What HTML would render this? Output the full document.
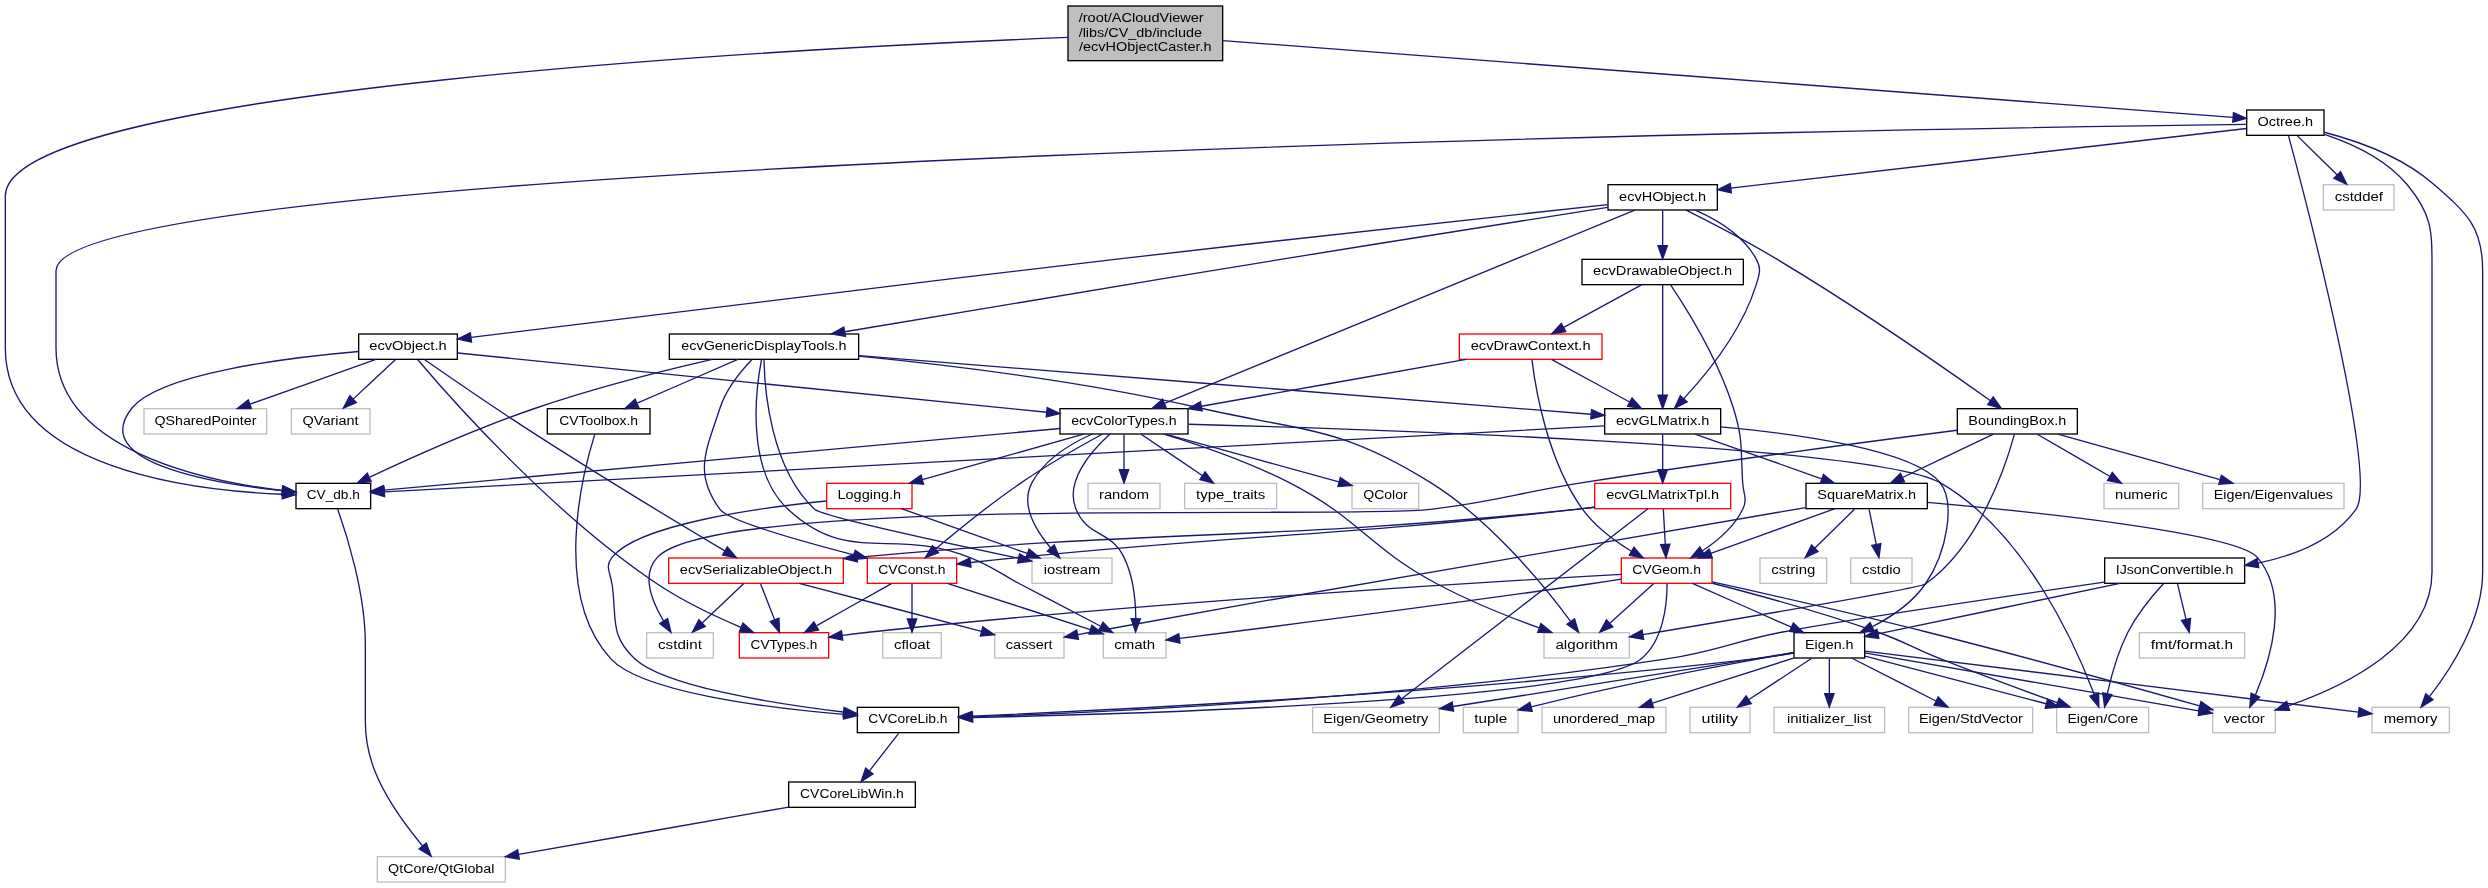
<!DOCTYPE html>
<html><head><meta charset="utf-8"><title>ecvHObjectCaster.h include dependency graph</title>
<style>
html,body{margin:0;padding:0;background:#ffffff;}
body{width:2488px;height:888px;overflow:hidden;}
svg{display:block;will-change:transform;}
.e path{fill:none;stroke:#191970;stroke-width:1;}
.e polygon{fill:#191970;stroke:#191970;stroke-width:1;}
.n text{font-family:"Liberation Sans",sans-serif;font-size:10.25px;fill:#000000;}
</style></head><body>
<svg width="2488" height="888" viewBox="0 0 1866 666"><rect x="0" y="0" width="1866" height="666" fill="#ffffff"/><g transform="translate(4 662)"><g class="n"><rect x="797" y="-657.5" width="116" height="41" fill="#bfbfbf" stroke="black"/><text x="805" y="-645.5" textLength="93.79" lengthAdjust="spacingAndGlyphs">/root/ACloudViewer</text><text x="805" y="-634.5" textLength="92.56" lengthAdjust="spacingAndGlyphs">/libs/CV_db/include</text><text x="854.94" y="-623.5" text-anchor="middle" textLength="99.45" lengthAdjust="spacingAndGlyphs">/ecvHObjectCaster.h</text></g><g class="n"><rect x="218" y="-299.5" width="56" height="19" fill="white" stroke="black"/><text x="245.93" y="-287.5" text-anchor="middle" textLength="39.82" lengthAdjust="spacingAndGlyphs">CV_db.h</text></g><g class="e"><path d="M796.9,-633.91C604.47,-626.23 0,-595.67 0,-515 0,-515 0,-515 0,-401 0,-311.11 138.57,-294.19 207.71,-291.34"/><polygon points="207.9,-294.83 217.78,-291 207.67,-287.84 207.9,-294.83"/></g><g class="n"><rect x="1681" y="-579.5" width="58" height="19" fill="white" stroke="black"/><text x="1709.96" y="-567.5" text-anchor="middle" textLength="41.78" lengthAdjust="spacingAndGlyphs">Octree.h</text></g><g class="e"><path d="M913.1,-631.58C1075.92,-619.2 1533.73,-584.4 1670.76,-573.98"/><polygon points="1671.11,-577.47 1680.81,-573.22 1670.57,-570.49 1671.11,-577.47"/></g><g class="n"><rect x="279" y="-19.5" width="96" height="19" fill="white" stroke="#bfbfbf"/><text x="326.92" y="-7.5" text-anchor="middle" textLength="79.71" lengthAdjust="spacingAndGlyphs">QtCore/QtGlobal</text></g><g class="e"><path d="M249.24,-280.3C255.79,-261.89 270,-217.51 270,-179 270,-179 270,-179 270,-121 270,-100.11 274.9,-73.06 312.97,-27.51"/><polygon points="310.31,-25.23 319.41,-19.8 315.68,-29.72 310.31,-25.23"/></g><g class="e"><path d="M1680.98,-568.66C1458.96,-565.89 38,-544.82 38,-459 38,-459 38,-459 38,-401 38,-325.08 147.62,-301.42 207.7,-294.15"/><polygon points="208.4,-297.6 217.95,-293.01 207.62,-290.64 208.4,-297.6"/></g><g class="n"><rect x="1574.5" y="-243.5" width="105" height="19" fill="white" stroke="black"/><text x="1626.92" y="-231.5" text-anchor="middle" textLength="88.3" lengthAdjust="spacingAndGlyphs">IJsonConvertible.h</text></g><g class="e"><path d="M1712.37,-560.23C1724.68,-514.39 1780.03,-303.57 1763,-280 1746.14,-256.66 1716.71,-245.23 1689.53,-239.7"/><polygon points="1690.11,-236.25 1679.65,-237.93 1688.87,-243.14 1690.11,-236.25"/></g><g class="n"><rect x="1655.5" y="-131.5" width="47" height="19" fill="white" stroke="#bfbfbf"/><text x="1679.22" y="-119.5" text-anchor="middle" textLength="30.86" lengthAdjust="spacingAndGlyphs">vector</text></g><g class="e"><path d="M1739.35,-561.3C1759.41,-554.59 1785.14,-542.9 1801,-524 1820.34,-500.94 1820,-489.1 1820,-459 1820,-459 1820,-459 1820,-233 1820,-178.53 1753.78,-147.06 1712.1,-132.64"/><polygon points="1713.19,-129.32 1702.6,-129.5 1711,-135.96 1713.19,-129.32"/></g><g class="n"><rect x="1775" y="-131.5" width="58" height="19" fill="white" stroke="#bfbfbf"/><text x="1803.94" y="-119.5" text-anchor="middle" textLength="40.33" lengthAdjust="spacingAndGlyphs">memory</text></g><g class="e"><path d="M1739.26,-562.81C1763.46,-556.47 1797.53,-544.55 1821,-524 1846.01,-502.1 1858,-492.24 1858,-459 1858,-459 1858,-459 1858,-233 1858,-196.86 1834.23,-160.25 1818.23,-139.71"/><polygon points="1820.75,-137.26 1811.74,-131.69 1815.31,-141.67 1820.75,-137.26"/></g><g class="n"><rect x="1738.5" y="-523.5" width="53" height="19" fill="white" stroke="#bfbfbf"/><text x="1765.12" y="-511.5" text-anchor="middle" textLength="36.18" lengthAdjust="spacingAndGlyphs">cstddef</text></g><g class="e"><path d="M1719.08,-560.08C1727.17,-552.14 1739.2,-540.34 1748.91,-530.8"/><polygon points="1751.4,-533.25 1756.09,-523.75 1746.5,-528.26 1751.4,-533.25"/></g><g class="n"><rect x="1202" y="-523.5" width="82" height="19" fill="white" stroke="black"/><text x="1242.98" y="-511.5" text-anchor="middle" textLength="65.3" lengthAdjust="spacingAndGlyphs">ecvHObject.h</text></g><g class="e"><path d="M1680.79,-565.62C1603.35,-556.67 1392.09,-532.24 1294.13,-520.91"/><polygon points="1294.51,-517.43 1284.17,-519.76 1293.7,-524.39 1294.51,-517.43"/></g><g class="n"><rect x="1538.5" y="-131.5" width="69" height="19" fill="white" stroke="#bfbfbf"/><text x="1573.02" y="-119.5" text-anchor="middle" textLength="52.95" lengthAdjust="spacingAndGlyphs">Eigen/Core</text></g><g class="e"><path d="M1618.67,-224.39C1610.78,-215.8 1599.12,-201.92 1592,-188 1584.47,-173.28 1579.48,-155.12 1576.51,-141.74"/><polygon points="1579.91,-140.9 1574.48,-131.8 1573.06,-142.3 1579.91,-140.9"/></g><g class="n"><rect x="639" y="-131.5" width="76" height="19" fill="white" stroke="black"/><text x="676.93" y="-119.5" text-anchor="middle" textLength="59.48" lengthAdjust="spacingAndGlyphs">CVCoreLib.h</text></g><g class="e"><path d="M1574.32,-225.43C1502.64,-215.05 1378.13,-196.69 1333,-188 1294.47,-180.58 1285.78,-174.01 1247,-168 1055.34,-138.32 824.22,-127.73 725.51,-124.38"/><polygon points="725.36,-120.88 715.25,-124.04 725.13,-127.87 725.36,-120.88"/></g><g class="n"><rect x="1600.5" y="-187.5" width="79" height="19" fill="white" stroke="#bfbfbf"/><text x="1639.99" y="-175.5" text-anchor="middle" textLength="61.71" lengthAdjust="spacingAndGlyphs">fmt/format.h</text></g><g class="e"><path d="M1629.15,-224.08C1630.87,-216.93 1633.35,-206.64 1635.5,-197.69"/><polygon points="1638.96,-198.29 1637.89,-187.75 1632.15,-196.65 1638.96,-198.29"/></g><g class="n"><rect x="1341.5" y="-187.5" width="53" height="19" fill="white" stroke="black"/><text x="1367.97" y="-175.5" text-anchor="middle" textLength="36.3" lengthAdjust="spacingAndGlyphs">Eigen.h</text></g><g class="e"><path d="M1585.96,-224.44C1535.99,-214.03 1452.37,-196.59 1404.54,-186.62"/><polygon points="1405.12,-183.16 1394.61,-184.55 1403.69,-190.02 1405.12,-183.16"/></g><g class="n"><rect x="587.5" y="-75.5" width="95" height="19" fill="white" stroke="black"/><text x="634.93" y="-63.5" text-anchor="middle" textLength="77.8" lengthAdjust="spacingAndGlyphs">CVCoreLibWin.h</text></g><g class="e"><path d="M670,-112C662.7,-102.62 655.4,-93.23 648.11,-83.85"/><polygon points="645.22,-85.84 641.84,-75.8 650.75,-81.54 645.22,-85.84"/></g><g class="e"><path d="M587.5,-56.67C520.02,-44.84 452.53,-33.01 385.05,-21.18"/><polygon points="384.25,-24.59 375,-19.42 385.45,-17.7 384.25,-24.59"/></g><g class="e"><path d="M1394.8,-169.94C1429.32,-160.85 1489.71,-144.94 1530.52,-134.19"/><polygon points="1531.66,-137.51 1540.44,-131.58 1529.88,-130.74 1531.66,-137.51"/></g><g class="e"><path d="M1341.49,-172.16C1332.48,-170.65 1322.32,-169.09 1313,-168 1094.35,-142.43 831.58,-129.43 725.21,-124.9"/><polygon points="725.25,-121.4 715.11,-124.48 724.95,-128.39 725.25,-121.4"/></g><g class="n"><rect x="980.5" y="-131.5" width="95" height="19" fill="white" stroke="#bfbfbf"/><text x="1027.9" y="-119.5" text-anchor="middle" textLength="78.81" lengthAdjust="spacingAndGlyphs">Eigen/Geometry</text></g><g class="e"><path d="M1341.43,-172.62C1332.41,-171.14 1322.27,-169.49 1313,-168 1307.41,-167.1 1167.61,-145.03 1085.93,-132.14"/><polygon points="1086.2,-128.64 1075.78,-130.54 1085.11,-135.56 1086.2,-128.64"/></g><g class="e"><path d="M1394.52,-172.4C1450.89,-162.61 1582.6,-139.74 1645.03,-128.9"/><polygon points="1645.88,-132.3 1655.14,-127.14 1644.69,-125.41 1645.88,-132.3"/></g><g class="n"><rect x="1326.5" y="-131.5" width="83" height="19" fill="white" stroke="#bfbfbf"/><text x="1368.01" y="-119.5" text-anchor="middle" textLength="63.52" lengthAdjust="spacingAndGlyphs">initializer_list</text></g><g class="e"><path d="M1368,-168.08C1368,-161.01 1368,-150.86 1368,-141.99"/><polygon points="1371.5,-141.75 1368,-131.75 1364.5,-141.75 1371.5,-141.75"/></g><g class="n"><rect x="1427.5" y="-131.5" width="93" height="19" fill="white" stroke="#bfbfbf"/><text x="1474.12" y="-119.5" text-anchor="middle" textLength="77.91" lengthAdjust="spacingAndGlyphs">Eigen/StdVector</text></g><g class="e"><path d="M1385.03,-168.32C1402.03,-159.66 1428.38,-146.24 1447.99,-136.25"/><polygon points="1449.69,-139.31 1457.01,-131.65 1446.51,-133.08 1449.69,-139.31"/></g><g class="e"><path d="M1394.62,-173.7C1468.7,-164.53 1677.58,-138.66 1764.88,-127.84"/><polygon points="1765.42,-131.31 1774.91,-126.6 1764.56,-124.36 1765.42,-131.31"/></g><g class="n"><rect x="1093.5" y="-131.5" width="41" height="19" fill="white" stroke="#bfbfbf"/><text x="1114.04" y="-119.5" text-anchor="middle" textLength="24.8" lengthAdjust="spacingAndGlyphs">tuple</text></g><g class="e"><path d="M1341.27,-172.46C1300.82,-165.42 1221.47,-150.9 1144.45,-131.91"/><polygon points="1145.14,-128.48 1134.59,-129.45 1143.44,-135.27 1145.14,-128.48"/></g><g class="n"><rect x="1152.5" y="-131.5" width="93" height="19" fill="white" stroke="#bfbfbf"/><text x="1199.02" y="-119.5" text-anchor="middle" textLength="76.67" lengthAdjust="spacingAndGlyphs">unordered_map</text></g><g class="e"><path d="M1341.22,-168.44C1312.67,-159.32 1267.27,-144.81 1235.46,-134.65"/><polygon points="1236.24,-131.23 1225.65,-131.52 1234.11,-137.89 1236.24,-131.23"/></g><g class="n"><rect x="1263.5" y="-131.5" width="45" height="19" fill="white" stroke="#bfbfbf"/><text x="1285.89" y="-119.5" text-anchor="middle" textLength="27.41" lengthAdjust="spacingAndGlyphs">utility</text></g><g class="e"><path d="M1354.83,-168.32C1342.15,-159.98 1322.77,-147.21 1307.79,-137.35"/><polygon points="1309.42,-134.23 1299.14,-131.65 1305.57,-140.08 1309.42,-134.23"/></g><g class="n"><rect x="791" y="-355.5" width="96" height="19" fill="white" stroke="black"/><text x="838.97" y="-343.5" text-anchor="middle" textLength="79.11" lengthAdjust="spacingAndGlyphs">ecvColorTypes.h</text></g><g class="e"><path d="M1222.13,-504.42C1155.5,-477.05 947.67,-391.65 869.31,-359.45"/><polygon points="870.57,-356.19 859.99,-355.62 867.91,-362.66 870.57,-356.19"/></g><g class="n"><rect x="1182.5" y="-467.5" width="121" height="19" fill="white" stroke="black"/><text x="1242.98" y="-455.5" text-anchor="middle" textLength="104.31" lengthAdjust="spacingAndGlyphs">ecvDrawableObject.h</text></g><g class="e"><path d="M1243,-504.08C1243,-497.01 1243,-486.86 1243,-477.99"/><polygon points="1246.5,-477.75 1243,-467.75 1239.5,-477.75 1246.5,-477.75"/></g><g class="n"><rect x="1199.5" y="-355.5" width="87" height="19" fill="white" stroke="black"/><text x="1242.98" y="-343.5" text-anchor="middle" textLength="69.89" lengthAdjust="spacingAndGlyphs">ecvGLMatrix.h</text></g><g class="e"><path d="M1267.47,-504.44C1283.57,-497.38 1303.38,-485.63 1313,-468 1317.26,-460.2 1315.65,-456.48 1313,-448 1302.41,-414.12 1276.02,-381.62 1258.84,-363.01"/><polygon points="1261.32,-360.54 1251.89,-355.71 1256.24,-365.37 1261.32,-360.54"/></g><g class="n"><rect x="498" y="-411.5" width="142" height="19" fill="white" stroke="black"/><text x="568.98" y="-399.5" text-anchor="middle" textLength="123.97" lengthAdjust="spacingAndGlyphs">ecvGenericDisplayTools.h</text></g><g class="e"><path d="M1201.74,-506.53C1146.63,-497.87 1045.93,-481.97 960,-468 843,-448.97 706.41,-426.12 629.58,-413.21"/><polygon points="630.04,-409.73 619.6,-411.53 628.88,-416.64 630.04,-409.73"/></g><g class="n"><rect x="1464" y="-355.5" width="90" height="19" fill="white" stroke="black"/><text x="1508.97" y="-343.5" text-anchor="middle" textLength="73.49" lengthAdjust="spacingAndGlyphs">BoundingBox.h</text></g><g class="e"><path d="M1260.54,-504.37C1277.93,-495.67 1305.2,-481.61 1328,-468 1387.93,-432.23 1455.57,-385.11 1488.62,-361.63"/><polygon points="1490.88,-364.31 1496.99,-355.66 1486.81,-358.61 1490.88,-364.31"/></g><g class="n"><rect x="265" y="-411.5" width="74" height="19" fill="white" stroke="black"/><text x="301.98" y="-399.5" text-anchor="middle" textLength="57.98" lengthAdjust="spacingAndGlyphs">ecvObject.h</text></g><g class="e"><path d="M1201.78,-508.58C1128.4,-500.67 970.32,-483.49 837,-468 656.72,-447.06 442.47,-420.53 349.25,-408.91"/><polygon points="349.64,-405.43 339.28,-407.67 348.77,-412.38 349.64,-405.43"/></g><g class="e"><path d="M790.97,-340.63C676.21,-330.18 387.91,-303.92 284.04,-294.46"/><polygon points="284.28,-290.97 274.01,-293.55 283.65,-297.94 284.28,-290.97"/></g><g class="e"><path d="M887.45,-343.83C1023.55,-340.22 1402.59,-327.74 1451,-300 1514.66,-263.52 1552.49,-178.69 1566.62,-141.28"/><polygon points="1569.99,-142.27 1570.12,-131.68 1563.41,-139.88 1569.99,-142.27"/></g><g class="n"><rect x="616" y="-299.5" width="64" height="19" fill="white" stroke="red"/><text x="647.97" y="-287.5" text-anchor="middle" textLength="47.77" lengthAdjust="spacingAndGlyphs">Logging.h</text></g><g class="e"><path d="M808.74,-336.44C776.04,-327.2 723.82,-312.44 687.82,-302.26"/><polygon points="688.7,-298.87 678.12,-299.52 686.79,-305.61 688.7,-298.87"/></g><g class="n"><rect x="770" y="-243.5" width="60" height="19" fill="white" stroke="#bfbfbf"/><text x="800.04" y="-231.5" text-anchor="middle" textLength="42.57" lengthAdjust="spacingAndGlyphs">iostream</text></g><g class="e"><path d="M815.21,-336.5C799.28,-329.41 779.54,-317.61 770,-300 761.18,-283.71 772.8,-264.35 784.05,-251.02"/><polygon points="786.68,-253.34 790.82,-243.58 781.5,-248.62 786.68,-253.34"/></g><g class="n"><rect x="1010" y="-299.5" width="50" height="19" fill="white" stroke="#bfbfbf"/><text x="1035.11" y="-287.5" text-anchor="middle" textLength="33.25" lengthAdjust="spacingAndGlyphs">QColor</text></g><g class="e"><path d="M870.06,-336.44C905.48,-326.68 963.25,-310.77 1000.17,-300.6"/><polygon points="1001.29,-303.92 1010,-297.89 999.43,-297.17 1001.29,-303.92"/></g><g class="n"><rect x="812" y="-299.5" width="54" height="19" fill="white" stroke="#bfbfbf"/><text x="839.03" y="-287.5" text-anchor="middle" textLength="37.57" lengthAdjust="spacingAndGlyphs">random</text></g><g class="e"><path d="M839,-336.08C839,-329.01 839,-318.86 839,-309.99"/><polygon points="842.5,-309.75 839,-299.75 835.5,-309.75 842.5,-309.75"/></g><g class="n"><rect x="1154" y="-187.5" width="64" height="19" fill="white" stroke="#bfbfbf"/><text x="1186.01" y="-175.5" text-anchor="middle" textLength="46.88" lengthAdjust="spacingAndGlyphs">algorithm</text></g><g class="e"><path d="M868.94,-336.47C894.62,-328.61 932.24,-315.79 963,-300 1016.19,-272.7 1021.28,-252.2 1074,-224 1098.63,-210.83 1127.97,-199.17 1150.44,-191.03"/><polygon points="1151.68,-194.3 1159.93,-187.65 1149.33,-187.71 1151.68,-194.3"/></g><g class="n"><rect x="884.5" y="-299.5" width="69" height="19" fill="white" stroke="#bfbfbf"/><text x="919.01" y="-287.5" text-anchor="middle" textLength="51.91" lengthAdjust="spacingAndGlyphs">type_traits</text></g><g class="e"><path d="M851.85,-336.32C864.22,-327.98 883.13,-315.21 897.74,-305.35"/><polygon points="899.85,-308.15 906.18,-299.65 895.93,-302.35 899.85,-308.15"/></g><g class="n"><rect x="823.5" y="-187.5" width="47" height="19" fill="white" stroke="#bfbfbf"/><text x="846.98" y="-175.5" text-anchor="middle" textLength="30.68" lengthAdjust="spacingAndGlyphs">cmath</text></g><g class="e"><path d="M828.56,-336.48C815.05,-324.35 794.21,-301.21 803,-280 811.66,-259.09 829.08,-264.34 839,-244 846.01,-229.63 847.73,-211.43 847.86,-197.95"/><polygon points="851.36,-197.85 847.68,-187.92 844.36,-197.98 851.36,-197.85"/></g><g class="n"><rect x="646.5" y="-243.5" width="67" height="19" fill="white" stroke="red"/><text x="679.93" y="-231.5" text-anchor="middle" textLength="50.44" lengthAdjust="spacingAndGlyphs">CVConst.h</text></g><g class="e"><path d="M822.97,-336.5C807.11,-327.89 782.32,-313.89 762,-300 738.88,-284.2 713.88,-263.86 697.64,-250.18"/><polygon points="699.89,-247.5 690,-243.69 695.35,-252.83 699.89,-247.5"/></g><g class="e"><path d="M615.86,-286.25C566.27,-281.26 474.73,-268.86 455,-244 449.47,-237.04 453.69,-232.79 455,-224 458.82,-198.27 452.9,-185.65 472,-168 494.39,-147.31 575.11,-134.44 628.33,-128.01"/><polygon points="629.05,-131.45 638.58,-126.81 628.24,-124.49 629.05,-131.45"/></g><g class="e"><path d="M672.08,-280.44C697.54,-271.4 737.89,-257.06 766.46,-246.92"/><polygon points="767.78,-250.16 776.03,-243.52 765.43,-243.57 767.78,-250.16"/></g><g class="e"><path d="M706.46,-224.44C735.51,-215.05 782.19,-199.96 813.71,-189.77"/><polygon points="814.92,-193.05 823.36,-186.64 812.77,-186.39 814.92,-193.05"/></g><g class="n"><rect x="658" y="-187.5" width="44" height="19" fill="white" stroke="#bfbfbf"/><text x="679.95" y="-175.5" text-anchor="middle" textLength="27.06" lengthAdjust="spacingAndGlyphs">cfloat</text></g><g class="e"><path d="M680,-224.08C680,-217.01 680,-206.86 680,-197.99"/><polygon points="683.5,-197.75 680,-187.75 676.5,-197.75 683.5,-197.75"/></g><g class="n"><rect x="550.5" y="-187.5" width="67" height="19" fill="white" stroke="red"/><text x="583.93" y="-175.5" text-anchor="middle" textLength="50.04" lengthAdjust="spacingAndGlyphs">CVTypes.h</text></g><g class="e"><path d="M664.58,-224.32C649.46,-215.82 626.18,-202.73 608.53,-192.8"/><polygon points="609.82,-189.51 599.39,-187.65 606.39,-195.61 609.82,-189.51"/></g><g class="n"><rect x="1090.5" y="-411.5" width="107" height="19" fill="white" stroke="red"/><text x="1143.98" y="-399.5" text-anchor="middle" textLength="89.88" lengthAdjust="spacingAndGlyphs">ecvDrawContext.h</text></g><g class="e"><path d="M1227.09,-448.32C1211.36,-439.74 1187.06,-426.49 1168.79,-416.52"/><polygon points="1170.32,-413.37 1159.87,-411.65 1166.97,-419.52 1170.32,-413.37"/></g><g class="n"><rect x="1212" y="-243.5" width="68" height="19" fill="white" stroke="red"/><text x="1245.93" y="-231.5" text-anchor="middle" textLength="51.6" lengthAdjust="spacingAndGlyphs">CVGeom.h</text></g><g class="e"><path d="M1248.97,-448.29C1260.25,-431.36 1284.57,-392.47 1296,-356 1303.5,-332.07 1301.44,-325.03 1303,-300 1303.55,-291.13 1306.88,-288 1303,-280 1296.6,-266.8 1284.25,-256.3 1272.67,-248.78"/><polygon points="1274.45,-245.77 1264.08,-243.61 1270.84,-251.77 1274.45,-245.77"/></g><g class="e"><path d="M1243,-448.37C1243,-430.62 1243,-389.67 1243,-365.6"/><polygon points="1246.5,-365.59 1243,-355.59 1239.5,-365.59 1246.5,-365.59"/></g><g class="e"><path d="M1095.67,-392.44C1041.8,-382.9 954.69,-367.48 897.14,-357.29"/><polygon points="897.56,-353.81 887.1,-355.52 896.34,-360.71 897.56,-353.81"/></g><g class="e"><path d="M1144.92,-392.24C1147.53,-371.06 1156.56,-316.17 1183,-280 1192.51,-266.99 1206.93,-256.29 1219.58,-248.6"/><polygon points="1221.45,-251.56 1228.38,-243.54 1217.96,-245.49 1221.45,-251.56"/></g><g class="e"><path d="M1159.91,-392.32C1175.64,-383.74 1199.94,-370.49 1218.21,-360.52"/><polygon points="1220.03,-363.52 1227.13,-355.65 1216.68,-357.37 1220.03,-363.52"/></g><g class="e"><path d="M1280.29,-224.56C1312.56,-216.3 1362.05,-202.83 1404,-188 1425.4,-180.43 1429.9,-176.38 1451,-168 1480.51,-156.29 1514.41,-143.86 1538.98,-135.05"/><polygon points="1540.32,-138.28 1548.56,-131.62 1537.97,-131.69 1540.32,-138.28"/></g><g class="e"><path d="M1246.32,-224.18C1246.3,-209.87 1243.95,-181.82 1227,-168 1188.59,-136.68 852.91,-126.59 725.64,-123.87"/><polygon points="725.48,-120.37 715.41,-123.66 725.33,-127.37 725.48,-120.37"/></g><g class="e"><path d="M1265.33,-224.44C1285.32,-215.6 1316.74,-201.69 1339.56,-191.59"/><polygon points="1341.03,-194.76 1348.76,-187.52 1338.2,-188.36 1341.03,-194.76"/></g><g class="e"><path d="M1280.27,-225.53C1319.29,-216.91 1384.9,-202.13 1441,-188 1514.37,-169.52 1599.8,-145.6 1645.72,-132.54"/><polygon points="1646.78,-135.88 1655.44,-129.77 1644.86,-129.15 1646.78,-135.88"/></g><g class="e"><path d="M1236.36,-224.32C1227.49,-216.34 1214.13,-204.31 1203.39,-194.65"/><polygon points="1205.59,-191.92 1195.82,-187.83 1200.91,-197.13 1205.59,-191.92"/></g><g class="e"><path d="M1211.98,-227.59C1204.11,-226.37 1195.77,-225.11 1188,-224 1075.64,-207.87 942.13,-190.88 880.83,-183.21"/><polygon points="880.95,-179.69 870.59,-181.93 880.08,-186.64 880.95,-179.69"/></g><g class="e"><path d="M1211.94,-231.18C1120.61,-226.13 862.68,-210.82 649,-188 642.15,-187.27 634.91,-186.38 627.85,-185.45"/><polygon points="628.07,-181.95 617.69,-184.07 627.13,-188.88 628.07,-181.95"/></g><g class="e"><path d="M1199.2,-342.63C1032.77,-333.61 441.2,-301.57 284.38,-293.08"/><polygon points="284.45,-289.58 274.27,-292.53 284.07,-296.57 284.45,-289.58"/></g><g class="e"><path d="M1286.67,-341.85C1341.47,-336.88 1430.76,-325.09 1451,-300 1462.57,-285.66 1456.64,-248.16 1440,-224 1430.26,-209.86 1414.48,-199.27 1400.17,-191.93"/><polygon points="1401.59,-188.73 1391.05,-187.57 1398.56,-195.04 1401.59,-188.73"/></g><g class="n"><rect x="1350.5" y="-299.5" width="91" height="19" fill="white" stroke="black"/><text x="1396.01" y="-287.5" text-anchor="middle" textLength="74.04" lengthAdjust="spacingAndGlyphs">SquareMatrix.h</text></g><g class="e"><path d="M1267.24,-336.44C1292.87,-327.4 1333.49,-313.06 1362.24,-302.92"/><polygon points="1363.61,-306.15 1371.87,-299.52 1361.28,-299.54 1363.61,-306.15"/></g><g class="n"><rect x="1192" y="-299.5" width="102" height="19" fill="white" stroke="red"/><text x="1242.98" y="-287.5" text-anchor="middle" textLength="84.74" lengthAdjust="spacingAndGlyphs">ecvGLMatrixTpl.h</text></g><g class="e"><path d="M1243,-336.08C1243,-329.01 1243,-318.86 1243,-309.99"/><polygon points="1246.5,-309.75 1243,-299.75 1239.5,-309.75 1246.5,-309.75"/></g><g class="e"><path d="M1441.52,-285.24C1519.8,-278.31 1673.1,-262.53 1689,-244 1713.73,-215.18 1698.7,-166.99 1687.62,-140.97"/><polygon points="1690.69,-139.26 1683.38,-131.59 1684.31,-142.14 1690.69,-139.26"/></g><g class="e"><path d="M1372.23,-280.44C1347.11,-271.4 1307.29,-257.06 1279.1,-246.92"/><polygon points="1280.25,-243.61 1269.66,-243.52 1277.88,-250.2 1280.25,-243.61"/></g><g class="n"><rect x="742" y="-187.5" width="52" height="19" fill="white" stroke="#bfbfbf"/><text x="767.96" y="-175.5" text-anchor="middle" textLength="35.1" lengthAdjust="spacingAndGlyphs">cassert</text></g><g class="e"><path d="M1350.38,-281.34C1252.32,-264.82 1014.16,-224.38 815,-188 811.54,-187.37 807.95,-186.7 804.35,-186.02"/><polygon points="804.81,-182.55 794.33,-184.12 803.51,-189.43 804.81,-182.55"/></g><g class="n"><rect x="1384" y="-243.5" width="46" height="19" fill="white" stroke="#bfbfbf"/><text x="1407" y="-231.5" text-anchor="middle" textLength="28.99" lengthAdjust="spacingAndGlyphs">cstdio</text></g><g class="e"><path d="M1397.83,-280C1399.61,-271.26 1401.39,-262.53 1403.17,-253.79"/><polygon points="1399.78,-252.9 1405.21,-243.8 1406.64,-254.3 1399.78,-252.9"/></g><g class="n"><rect x="1316" y="-243.5" width="50" height="19" fill="white" stroke="#bfbfbf"/><text x="1340.95" y="-231.5" text-anchor="middle" textLength="33.13" lengthAdjust="spacingAndGlyphs">cstring</text></g><g class="e"><path d="M1386.83,-280C1376.97,-270.32 1367.11,-260.63 1357.24,-250.95"/><polygon points="1354.65,-253.3 1349.96,-243.8 1359.55,-248.31 1354.65,-253.3"/></g><g class="e"><path d="M1231.74,-280.31C1196.99,-253.47 1091.07,-171.69 1047.27,-137.88"/><polygon points="1049.2,-134.95 1039.15,-131.61 1044.92,-140.49 1049.2,-134.95"/></g><g class="e"><path d="M1191.94,-281.68C1187.23,-281.08 1182.53,-280.51 1178,-280 993.14,-259.24 946.12,-262.27 761,-244 749.02,-242.82 736.06,-241.43 724.09,-240.1"/><polygon points="724.2,-236.59 713.87,-238.95 723.42,-243.54 724.2,-236.59"/></g><g class="e"><path d="M1243.5,-280.08C1243.89,-273.01 1244.45,-262.86 1244.95,-253.99"/><polygon points="1248.45,-253.93 1245.51,-243.75 1241.46,-253.54 1248.45,-253.93"/></g><g class="n"><rect x="497.5" y="-243.5" width="131" height="19" fill="white" stroke="red"/><text x="562.98" y="-231.5" text-anchor="middle" textLength="114.26" lengthAdjust="spacingAndGlyphs">ecvSerializableObject.h</text></g><g class="e"><path d="M1191.95,-281.58C1187.24,-281 1182.53,-280.46 1178,-280 941.99,-255.82 879.2,-266.05 638.92,-244.03"/><polygon points="639.11,-240.54 628.83,-243.1 638.46,-247.51 639.11,-240.54"/></g><g class="e"><path d="M566.47,-224.08C569.31,-216.77 573.43,-206.18 576.96,-197.1"/><polygon points="580.23,-198.34 580.6,-187.75 573.71,-195.8 580.23,-198.34"/></g><g class="e"><path d="M595.48,-224.44C632.69,-214.64 693.47,-198.63 732.07,-188.47"/><polygon points="733.07,-191.82 741.85,-185.89 731.29,-185.05 733.07,-191.82"/></g><g class="n"><rect x="481" y="-187.5" width="50" height="19" fill="white" stroke="#bfbfbf"/><text x="505.95" y="-175.5" text-anchor="middle" textLength="32.96" lengthAdjust="spacingAndGlyphs">cstdint</text></g><g class="e"><path d="M553.84,-224.32C545.5,-216.42 532.97,-204.55 522.82,-194.94"/><polygon points="524.99,-192.17 515.32,-187.83 520.18,-197.25 524.99,-192.17"/></g><g class="e"><path d="M530.15,-392.49C495.17,-384.43 442.57,-371.3 398,-356 353.37,-340.68 303.37,-318.23 273.31,-304.12"/><polygon points="274.45,-300.79 263.91,-299.68 271.46,-307.12 274.45,-300.79"/></g><g class="e"><path d="M568.98,-392.49C569.4,-370.4 573.74,-310.84 607,-280 612.64,-274.77 704.72,-254.86 759.62,-243.35"/><polygon points="760.67,-246.71 769.74,-241.24 759.24,-239.86 760.67,-246.71"/></g><g class="e"><path d="M640.14,-394.86C706.82,-388.25 808.99,-375.9 896,-356 974.78,-337.98 1000.43,-342.77 1069,-300 1114.47,-271.64 1154.83,-221.82 1174.07,-195.84"/><polygon points="1176.93,-197.87 1179.97,-187.72 1171.26,-193.75 1176.93,-197.87"/></g><g class="e"><path d="M567.13,-392.37C562.85,-370.01 555.03,-309.86 587,-280 632.7,-237.32 664.74,-266.71 723,-244 740.78,-237.07 744.1,-232.87 761,-224 781.21,-213.4 804.1,-201.42 821.18,-192.49"/><polygon points="823.27,-195.35 830.51,-187.62 820.02,-189.15 823.27,-195.35"/></g><g class="e"><path d="M559.98,-392.34C551.93,-383.93 540.7,-370.36 536,-356 525.49,-323.9 515.99,-307.21 536,-280 542.17,-271.61 596.24,-256.28 636.32,-245.87"/><polygon points="637.36,-249.22 646.17,-243.33 635.61,-242.44 637.36,-249.22"/></g><g class="e"><path d="M640.17,-395.3C775.81,-384.43 1068.52,-360.98 1189.25,-351.31"/><polygon points="1189.68,-354.78 1199.36,-350.5 1189.12,-347.81 1189.68,-354.78"/></g><g class="n"><rect x="406.5" y="-355.5" width="77" height="19" fill="white" stroke="black"/><text x="444.93" y="-343.5" text-anchor="middle" textLength="59.15" lengthAdjust="spacingAndGlyphs">CVToolbox.h</text></g><g class="e"><path d="M549.35,-392.44C529.04,-383.6 497.1,-369.69 473.9,-359.59"/><polygon points="475.12,-356.3 464.56,-355.52 472.33,-362.72 475.12,-356.3"/></g><g class="e"><path d="M442.07,-336.2C433.16,-307.65 409.64,-216.66 454,-168 476.97,-142.81 570.37,-131.13 628.76,-126.19"/><polygon points="629.2,-129.67 638.88,-125.38 628.63,-122.69 629.2,-129.67"/></g><g class="e"><path d="M1506.79,-336.24C1500.58,-313.56 1480.72,-252.7 1440,-224 1435.68,-220.95 1299.35,-197.89 1228.25,-186.02"/><polygon points="1228.69,-182.54 1218.25,-184.35 1227.54,-189.45 1228.69,-182.54"/></g><g class="e"><path d="M1491.09,-336.44C1472.75,-327.68 1443.99,-313.94 1422.91,-303.86"/><polygon points="1424.35,-300.67 1413.82,-299.52 1421.33,-306.99 1424.35,-300.67"/></g><g class="e"><path d="M1463.84,-339.3C1400.84,-331.22 1283.05,-315.68 1183,-300 1132.18,-292.04 1120.08,-286.05 1069,-280 1004.88,-272.41 533.22,-291.05 489,-244 476.94,-231.17 485.01,-210.87 493.67,-196.38"/><polygon points="496.71,-198.11 499.23,-187.82 490.85,-194.29 496.71,-198.11"/></g><g class="n"><rect x="1648" y="-299.5" width="106" height="19" fill="white" stroke="#bfbfbf"/><text x="1700.99" y="-287.5" text-anchor="middle" textLength="89.31" lengthAdjust="spacingAndGlyphs">Eigen/Eigenvalues</text></g><g class="e"><path d="M1539.42,-336.44C1572.28,-327.2 1624.78,-312.44 1660.97,-302.26"/><polygon points="1662.04,-305.59 1670.72,-299.52 1660.15,-298.85 1662.04,-305.59"/></g><g class="n"><rect x="1574" y="-299.5" width="56" height="19" fill="white" stroke="#bfbfbf"/><text x="1601.92" y="-287.5" text-anchor="middle" textLength="39.47" lengthAdjust="spacingAndGlyphs">numeric</text></g><g class="e"><path d="M1523.94,-336.32C1538.59,-327.82 1561.13,-314.73 1578.24,-304.8"/><polygon points="1580.2,-307.7 1587.1,-299.65 1576.69,-301.65 1580.2,-307.7"/></g><g class="e"><path d="M264.93,-398.39C211.24,-393.74 115.94,-381.99 95,-356 62.36,-315.5 152.73,-299.72 207.5,-293.99"/><polygon points="207.99,-297.46 217.61,-293.01 207.31,-290.49 207.99,-297.46"/></g><g class="e"><path d="M339.33,-397.25C431.48,-387.98 670.25,-363.97 781,-352.83"/><polygon points="781.39,-356.31 790.99,-351.83 780.69,-349.35 781.39,-356.31"/></g><g class="e"><path d="M309.35,-392.17C332.94,-364.29 409.8,-276.85 489,-224 508.65,-210.89 532.71,-199.53 551.71,-191.51"/><polygon points="553.22,-194.67 561.13,-187.62 550.55,-188.2 553.22,-194.67"/></g><g class="e"><path d="M314.31,-392.4C332.45,-379.78 367.54,-355.62 398,-336 447.86,-303.89 507.43,-268.02 539.6,-248.86"/><polygon points="541.49,-251.81 548.29,-243.69 537.91,-245.8 541.49,-251.81"/></g><g class="n"><rect x="104" y="-355.5" width="92" height="19" fill="white" stroke="#bfbfbf"/><text x="150.11" y="-343.5" text-anchor="middle" textLength="76.35" lengthAdjust="spacingAndGlyphs">QSharedPointer</text></g><g class="e"><path d="M277.92,-392.44C252.46,-383.4 212.11,-369.06 183.54,-358.92"/><polygon points="184.57,-355.57 173.97,-355.52 182.22,-362.16 184.57,-355.57"/></g><g class="n"><rect x="214.5" y="-355.5" width="59" height="19" fill="white" stroke="#bfbfbf"/><text x="243.94" y="-343.5" text-anchor="middle" textLength="42.07" lengthAdjust="spacingAndGlyphs">QVariant</text></g><g class="e"><path d="M292.68,-392.32C284.11,-384.34 271.19,-372.31 260.81,-362.65"/><polygon points="263.19,-360.09 253.49,-355.83 258.42,-365.21 263.19,-360.09"/></g></g></svg>
</body></html>
